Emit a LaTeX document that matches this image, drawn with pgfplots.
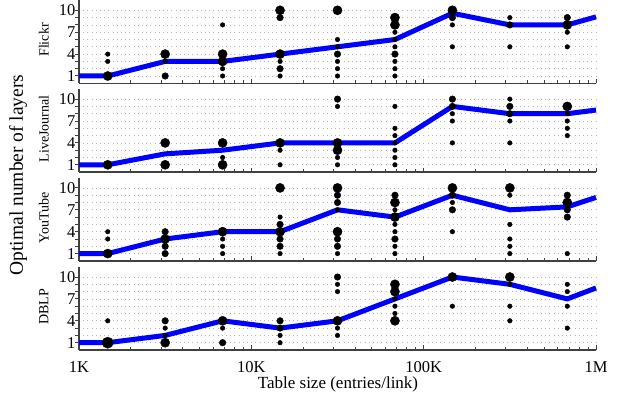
\documentclass[border=0pt]{standalone}
\usepackage{fontspec}
\setmainfont{Liberation Serif}
\usepackage{pgfplots}
\pgfplotsset{compat=1.18}
\definecolor{lineblue}{RGB}{0,0,255}
\pgfplotsset{
  myPanel/.style={
    scale only axis, width=517bp, height=83.2bp, anchor=south west,
    xmin=1000, xmax=1000000, ymin=0, ymax=11.4,
    axis x line*=bottom, axis y line*=left,
    xtick={1000,10000,100000,1000000},
    minor xtick={2000,3000,4000,5000,6000,7000,8000,9000,20000,30000,40000,50000,60000,70000,80000,90000,200000,300000,400000,500000,600000,700000,800000,900000},
    ytick={1,4,7,10}, yticklabels={1,4,7,10}, minor ytick={2,3,5,6,8,9},
    ymajorgrids, yminorgrids,
    major grid style={gray!60, line width=0.8bp, dash pattern=on 1bp off 3.2bp},
    minor grid style={gray!60, line width=0.8bp, dash pattern=on 1bp off 3.2bp},
    tick style={black!75, line width=1bp},
    y tick style={xshift=-3.6bp},
    axis line style={black!75, line width=1.3bp},
    major tick length=4.5bp, minor tick length=3bp,
    ticklabel style={font=\fontsize{16.5bp}{19bp}\selectfont},
    xticklabel style={yshift=-8bp},
    /pgf/number format/assume math mode=true,
    ylabel style={at={(rel axis cs:-0.068,0.52)}, anchor=center, font=\fontsize{14bp}{17bp}\selectfont},
    clip=false,
  },
  dotS/.style={only marks, mark=*, mark size=2.3bp, black},
  dotM/.style={only marks, mark=*, mark size=3.3bp, black},
  dotL/.style={only marks, mark=*, mark size=4.6bp, black},
  dotXL/.style={only marks, mark=*, mark size=5.6bp, black},
  blueLine/.style={lineblue, line width=5bp, no marks, line join=round},
}
\begin{document}
\begin{tikzpicture}
\useasboundingbox (0,0) rectangle (617bp,395bp);
% Flickr
\begin{axis}[xmode=log, myPanel, at={(79bp,311.7bp)}, ylabel={Flickr}, xticklabels={}]
\addplot[blueLine] coordinates {(1000,1)(1468,1)(3162,3)(6813,3)(14678,4)(31623,5)(68129,6)(146780,9.6)(316228,8)(681292,8)(1000000,9.1)};
\addplot[dotL] coordinates {(1468,1)(3162,4)(6813,4)(6813,3)(14678,10)(14678,4)(31623,10)(68129,9)(68129,8)(146780,10)(681292,8)};
\addplot[dotM] coordinates {(3162,1)(14678,9)(14678,2)(31623,4)(68129,4)(146780,9)(316228,8)(681292,9)};
\addplot[dotS] coordinates {(1468,4)(1468,3)(3162,3)(6813,8)(6813,2)(6813,1)(14678,3)(14678,1)(31623,6)(31623,5)(31623,3)(31623,2)(31623,1)(68129,7)(68129,6)(68129,5)(68129,3)(68129,2)(68129,1)(146780,8)(146780,5)(316228,9)(316228,5)(681292,7)(681292,5)};
\end{axis}
% LiveJournal
\begin{axis}[xmode=log, myPanel, at={(79bp,222.9bp)}, ylabel={LiveJournal}, xticklabels={}]
\addplot[blueLine] coordinates {(1000,1)(1468,1)(3162,2.5)(6813,3)(14678,4)(31623,4)(68129,4)(146780,9)(316228,8)(681292,8)(1000000,8.5)};
\addplot[dotL] coordinates {(1468,1)(3162,4)(3162,1)(6813,4)(6813,1)(14678,4)(31623,4)(31623,3)(681292,9)};
\addplot[dotM] coordinates {(31623,10)(146780,10)(146780,9)(316228,9)(316228,8)};
\addplot[dotS] coordinates {(6813,2)(14678,3)(14678,1)(31623,9)(31623,2)(31623,1)(68129,9)(68129,6)(68129,5)(68129,4)(68129,3)(68129,2)(68129,1)(146780,8)(146780,7)(146780,4)(316228,10)(316228,7)(316228,4)(681292,8)(681292,7)(681292,6)(681292,5)};
\end{axis}
% YouTube
\begin{axis}[xmode=log, myPanel, at={(79bp,134.1bp)}, ylabel={YouTube}, xticklabels={}]
\addplot[blueLine] coordinates {(1000,1)(1468,1)(3162,3)(6813,4)(14678,4)(31623,7)(68129,6)(146780,9)(316228,7)(681292,7.4)(1000000,8.7)};
\addplot[dotL] coordinates {(1468,1)(3162,3)(6813,4)(14678,10)(14678,4)(31623,10)(31623,4)(68129,8)(68129,6)(146780,10)(316228,10)(681292,8)};
\addplot[dotM] coordinates {(3162,4)(3162,2)(3162,1)(14678,5)(14678,3)(14678,2)(31623,9)(31623,8)(31623,3)(31623,2)(68129,9)(68129,3)(146780,9)(146780,7)(681292,9)(681292,7)(681292,6)};
\addplot[dotS] coordinates {(1468,4)(1468,3)(6813,3)(6813,2)(6813,1)(14678,6)(14678,1)(31623,7)(31623,1)(68129,7)(68129,5)(68129,4)(68129,2)(68129,1)(146780,8)(146780,4)(316228,9)(316228,5)(316228,3)(316228,2)(316228,1)(681292,1)};
\end{axis}
% DBLP
\begin{axis}[xmode=log, myPanel, at={(79bp,45bp)}, ylabel={DBLP},
  xticklabels={1K,10K,100K,1M}]
\addplot[blueLine] coordinates {(1000,1)(1468,1)(3162,2)(6813,4)(14678,3)(31623,4)(68129,7)(146780,10)(316228,9)(681292,7)(1000000,8.5)};
\addplot[dotXL] coordinates {(1468,1)};
\addplot[dotL] coordinates {(3162,1)(6813,4)(31623,4)(68129,9)(68129,8)(68129,4)(146780,10)(316228,10)};
\addplot[dotM] coordinates {(3162,4)(6813,1)(14678,4)(14678,3)(31623,10)};
\addplot[dotS] coordinates {(1468,4)(3162,3)(3162,2)(6813,3)(14678,2)(14678,1)(31623,9)(31623,8)(31623,3)(31623,2)(68129,7)(68129,6)(68129,5)(146780,6)(316228,9)(316228,6)(316228,4)(681292,9)(681292,8)(681292,6)(681292,3)};
\end{axis}
\node[rotate=90, font=\fontsize{19.5bp}{23bp}\selectfont] at (18bp,220bp) {Optimal number of layers};
\node[font=\fontsize{17bp}{20bp}\selectfont] at (338bp,11bp) {Table size (entries/link)};
\end{tikzpicture}
\end{document}
